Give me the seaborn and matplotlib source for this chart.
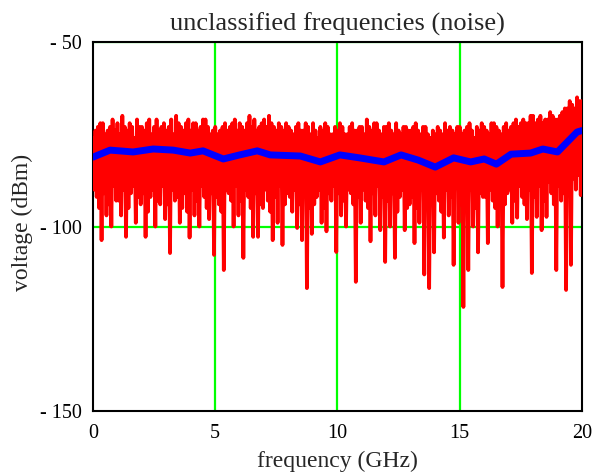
import numpy as np
import pandas as pd
from matplotlib import pyplot as plt
import seaborn as sns

# frequency axis for the raw noise trace (GHz), 0.05 GHz steps
freq = np.round(np.arange(0, 20.001, 0.05), 2)

# raw noise (dBm), one row per GHz
noise = [
    -76, -90, -74, -92, -73, -95, -72, -103.7, -72, -91, -75, -97, -74, -94, -73, -100, -71, -89, -74, -93,
    -72, -93, -75, -97, -70, -90, -73, -102.8, -74, -95, -72, -91, -73, -89, -76, -99, -71, -92, -73, -94,
    -73, -91, -74, -102.8, -72, -96, -71, -92, -75, -90, -73, -100, -71, -93, -74, -94, -73, -89, -72, -98,
    -74, -94, -73, -107.2, -71, -90, -75, -93, -70, -92, -72, -99, -73, -95, -74, -91, -72, -96, -71, -103,
    -74, -90, -72, -97, -72, -93, -74, -100, -73, -89, -71, -92, -71, -95, -73, -98, -75, -91, -74, -107.7,
    -73, -92, -75, -94, -74, -96, -73, -111.8, -72, -90, -74, -91, -73, -93, -72, -100, -71, -89, -74, -97,
    -72, -93, -73, -108.5, -74, -90, -72, -92, -70, -95, -73, -102.8, -71, -91, -74, -102.8, -73, -94, -72, -95,
    -71, -90, -73, -93, -70, -96, -72, -103.7, -73, -92, -74, -99, -72, -89, -73, -105, -74, -94, -72, -91,
    -73, -92, -74, -96, -75, -90, -73, -100.4, -72, -94, -74, -103.7, -74, -91, -72, -116.7, -73, -95, -75, -102,
    -72, -94, -74, -92, -76, -90, -73, -99, -74, -95, -72, -101.3, -73, -91, -75, -93, -75, -89, -73, -106.9,
    -74, -91, -72, -97, -73, -93, -75, -100, -75, -90, -73, -91, -72, -94, -74, -115, -74, -92, -73, -99,
    -73, -90, -75, -93, -71, -95, -73, -104, -74, -91, -72, -97, -72, -89, -74, -101, -75, -92, -73, -109.6,
    -73, -93, -72, -100, -74, -91, -75, -108.5, -72, -96, -74, -92, -75, -90, -73, -101, -73, -95, -74, -94,
    -74, -92, -73, -104.5, -72, -95, -74, -99, -75, -90, -73, -113, -73, -94, -75, -116.7, -76, -93, -74, -107,
    -75, -91, -73, -93, -74, -96, -75, -103, -72, -90, -74, -97, -73, -92, -74, -110.4, -75, -89, -73, -99,
    -73, -94, -75, -121.8, -74, -93, -73, -111.8, -72, -90, -74, -100, -76, -95, -73, -107, -74, -91, -72, -92,
    -73, -92, -74, -104.5, -75, -90, -72, -93, -72, -95, -73, -100, -74, -89, -75, -116.4, -73, -94, -72, -91,
    -74, -90, -73, -99, -72, -93, -71, -97.6, -73, -89, -72, -92, -71, -94, -72, -98, -72, -90, -70, -112.6,
    -70, -92, -72, -97.4, -71, -89, -70, -101, -72, -93, -71, -97.4, -71, -88, -69, -91, -70, -94, -71, -111.8,
    -71, -89, -70, -93, -69, -91, -68, -117.2, -68, -88, -66, -110.4, -67, -87, -68, -90, -65, -86, -66, -91.5,
    -66,
]

# smoothed level (dBm)
smooth_freq = [0, 0.7, 1.64, 2.46, 3.28, 3.98, 4.5, 5.33, 6.0, 6.72, 7.25,
               8.48, 9.3, 10.1, 10.9, 11.9, 12.6, 13.3, 14.0, 14.75, 15.45,
               16.0, 16.5, 17.1, 17.9, 18.4, 19.0, 19.4, 19.8, 20.0]
smooth = [-81.2, -79.3, -79.8, -79.0, -79.3, -80.1, -79.5, -81.7, -80.6, -79.5,
          -80.6, -80.9, -82.5, -80.6, -81.4, -82.5, -80.6, -82.0, -83.9, -81.4,
          -82.5, -81.7, -83.1, -80.4, -80.1, -79.0, -79.8, -77.1, -74.4, -74.0]

df_noise = pd.DataFrame({"freq": freq, "dbm": noise})
df_smooth = pd.DataFrame({"freq": smooth_freq, "dbm": smooth})

sns.set_style("white")
plt.rcParams["font.family"] = ["Liberation Serif", "DejaVu Serif"]

fig = plt.figure(figsize=(5.97, 4.74), dpi=100)
ax = fig.add_axes([0.1558, 0.1329, 0.819, 0.7785])

sns.lineplot(data=df_noise, x="freq", y="dbm", color="#ff0000",
             linewidth=2.7, ax=ax, zorder=3)
sns.lineplot(data=df_smooth, x="freq", y="dbm", color="#0000ff",
             linewidth=5.0, ax=ax, zorder=4)

ax.set_xlim(0, 20)
ax.set_ylim(-150, -50)
ax.set_xticks([0, 5, 10, 15, 20], labels=["0", "5", "10", "15", "20"])
ax.set_yticks([-150, -100, -50], labels=["- 150", "- 100", "- 50"])
ax.tick_params(axis="both", length=0, labelsize=14.5, colors="black")
ax.tick_params(axis="x", pad=9)
ax.tick_params(axis="y", pad=8)

for x in [5, 10, 15]:
    ax.axvline(x, color="#00ff00", linewidth=1.6, zorder=1)
for y in [-100, -50]:
    ax.axhline(y, color="#00ff00", linewidth=1.6, zorder=1)

for s in ax.spines.values():
    s.set_color("black")
    s.set_linewidth(1.5)
    s.set_visible(True)

ax.set_title("unclassified frequencies (noise)", fontsize=19, pad=8)
ax.set_xlabel("frequency (GHz)", fontsize=17)
ax.set_ylabel("voltage (dBm)", fontsize=17)
ax.xaxis.set_label_coords(0.5, -0.108)
ax.yaxis.set_label_coords(-0.123, 0.51)

fig.savefig("out.png", dpi=100)
